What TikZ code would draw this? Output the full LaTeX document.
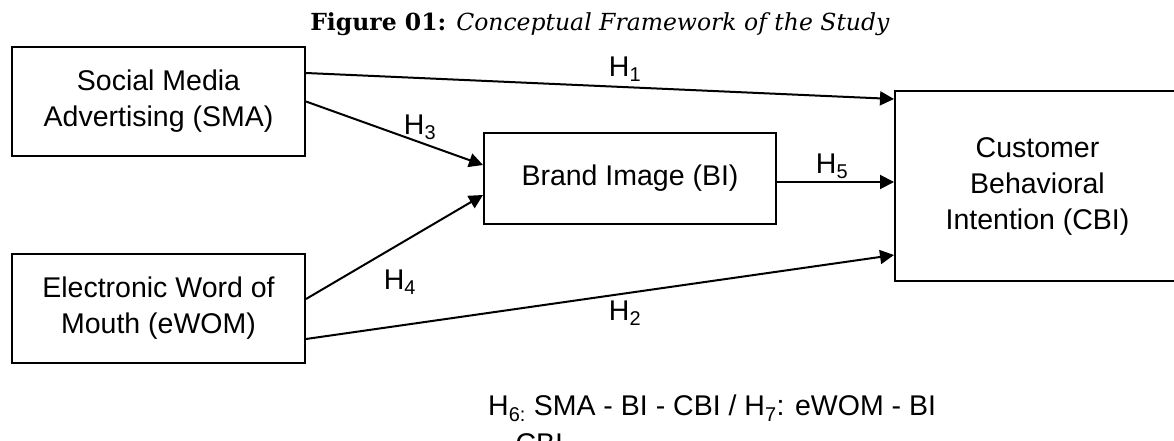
\documentclass[tikz,border=0pt]{standalone}
\usepackage{fontspec}
\setmainfont{Liberation Sans}
\newfontfamily\titlefont{DejaVu Serif}
\usetikzlibrary{arrows.meta}

\tikzset{
  construct/.style={draw=black, line width=2pt, rectangle, align=center,
    inner sep=0pt, font=\fontsize{28.5}{36}\selectfont},
  path arrow/.style={line width=2pt,
    -{Triangle[length=14pt,width=14pt]}},
  hyp/.style={inner sep=0pt, font=\fontsize{28.5}{34}\selectfont},
}

\begin{document}
\begin{tikzpicture}[x=1pt, y=-1pt]
  \path[use as bounding box, clip] (0,0) rectangle (1174,441);

  % caption
  \node (title) [anchor=base, inner sep=0pt, font=\titlefont\fontsize{23.5}{28}\selectfont]
    at (600,31) {\textbf{Figure 01:} \textit{Conceptual Framework of the Study}};

  % constructs
  \node (sma)  [construct, minimum width=293pt, minimum height=109pt] at (158.5,101.5)
    {Social Media\\Advertising (SMA)};
  \node (ewom) [construct, minimum width=293pt, minimum height=109pt] at (158.5,308.5)
    {Electronic Word of\\Mouth (eWOM)};
  \node (bi)   [construct, minimum width=292pt, minimum height=91pt] at (630,178.5)
    {Brand Image (BI)};
  \node (cbi)  [construct, minimum width=285pt, minimum height=190pt] at (1037.5,186)
    {Customer\\Behavioral\\Intention (CBI)};

  % hypothesised paths
  \draw[path arrow] ([yshift=-27pt]sma.north east) -- ([yshift=-9pt]cbi.north west);
  \draw[path arrow] (sma.east) -- ([yshift=13.5pt]bi.west);
  \draw[path arrow] ([yshift=9.5pt]ewom.east) -- ([yshift=-16.5pt]bi.west);
  \draw[path arrow] ([yshift=-30.5pt]ewom.east) -- ([yshift=-69pt]cbi.west);
  \draw[path arrow] ([yshift=-3.5pt]bi.east) -- ([yshift=-3.5pt]bi.east -| cbi.west);

  % path labels
  \node (h1) [hyp] at (625,69)  {H\textsubscript{1}};
  \node (h3) [hyp] at (420,127) {H\textsubscript{3}};
  \node (h4) [hyp] at (400,282) {H\textsubscript{4}};
  \node (h2) [hyp] at (625,313) {H\textsubscript{2}};
  \node (h5) [hyp] at (832,166) {H\textsubscript{5}};

  % mediation hypotheses
  \node (med) [anchor=north west, align=left, inner sep=0pt,
    font=\fontsize{28.5}{38}\selectfont] at (488,395)
    {H\textsubscript{6:} SMA - BI - CBI / H\textsubscript{7}: eWOM - BI\\
     \hspace*{10pt}- CBI};
\end{tikzpicture}
\end{document}
